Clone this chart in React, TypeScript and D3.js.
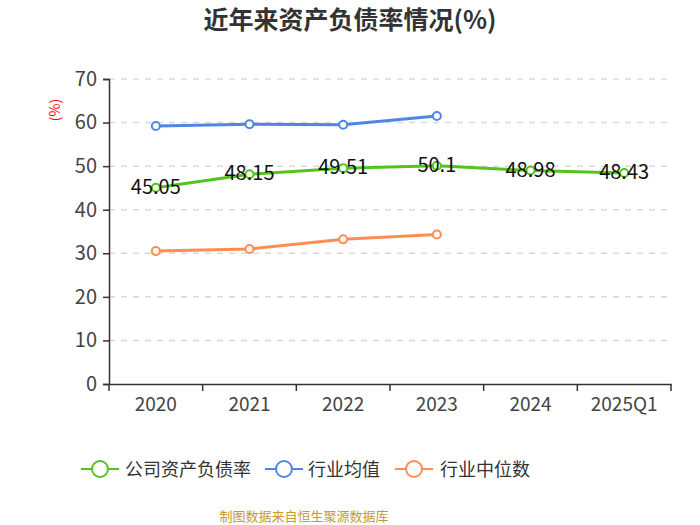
import React, { useEffect, useRef } from 'react';
import * as d3 from 'd3';

const categories = ['2020', '2021', '2022', '2023', '2024', '2025Q1'];
const companyRatio = [45.05, 48.15, 49.51, 50.1, 48.98, 48.43];
const industryAvg = [59.2, 59.6, 59.5, 61.5];
const industryMedian = [30.5, 31.0, 33.2, 34.3];
const yTicks = [0, 10, 20, 30, 40, 50, 60, 70];

const seriesNames = ['公司资产负债率', '行业均值', '行业中位数'];
const seriesColors = ['#52c41a', '#4f86e6', '#ff8c55'];

const FONT = '"Noto Sans CJK SC", "Noto Sans", sans-serif';

const App: React.FC = () => {
  const svgRef = useRef<SVGSVGElement | null>(null);

  useEffect(() => {
    if (!svgRef.current) return;
    const svg = d3.select(svgRef.current);
    svg.selectAll('*').remove();

    const width = 700;
    const height = 525;
    const margin = { top: 79, right: 29, bottom: 141, left: 109 };
    const innerWidth = width - margin.left - margin.right;
    const innerHeight = height - margin.top - margin.bottom;

    svg.append('rect').attr('width', width).attr('height', height).attr('fill', '#fff');

    // title
    svg.append('text')
      .attr('x', width / 2)
      .attr('y', 29)
      .attr('text-anchor', 'middle')
      .attr('font-family', FONT)
      .attr('font-size', 25)
      .attr('font-weight', 'bold')
      .attr('fill', '#333')
      .text('近年来资产负债率情况(%)');

    // unit
    svg.append('text')
      .attr('transform', 'translate(60,110) rotate(-90)')
      .attr('text-anchor', 'middle')
      .attr('font-family', FONT)
      .attr('font-size', 14)
      .attr('fill', '#ff0000')
      .text('(%)');

    const g = svg.append('g').attr('transform', `translate(${margin.left},${margin.top})`);

    const x = d3.scaleBand().domain(categories).range([0, innerWidth]);
    const y = d3.scaleLinear().domain([0, 70]).range([innerHeight, 0]);
    const cx = (c: string) => (x(c) || 0) + x.bandwidth() / 2;

    // grid
    g.selectAll('.grid')
      .data(yTicks.filter(t => t > 0))
      .enter()
      .append('line')
      .attr('x1', 0)
      .attr('x2', innerWidth)
      .attr('y1', d => y(d))
      .attr('y2', d => y(d))
      .attr('stroke', '#d9d9d9')
      .attr('stroke-width', 1.5)
      .attr('stroke-dasharray', '6,6');

    // y axis
    const yAxis = g.append('g').call(d3.axisLeft(y).tickValues(yTicks).tickSize(6).tickPadding(6));
    yAxis.select('.domain').attr('stroke', '#333').attr('stroke-width', 1.5);
    yAxis.selectAll('.tick line').attr('stroke', '#333').attr('stroke-width', 1.5);
    yAxis.selectAll('.tick text')
      .attr('font-family', FONT)
      .attr('font-size', 20)
      .attr('fill', '#444');

    // x axis
    const xAxis = g.append('g')
      .attr('transform', `translate(0,${innerHeight})`)
      .call(d3.axisBottom(x).tickSize(0).tickPadding(14));
    xAxis.select('.domain').attr('stroke', '#333').attr('stroke-width', 1.5);
    xAxis.selectAll('.tick text')
      .attr('font-family', FONT)
      .attr('font-size', 19)
      .attr('fill', '#444');
    xAxis.selectAll('.edge')
      .data(d3.range(categories.length + 1))
      .enter()
      .append('line')
      .attr('x1', i => i * x.bandwidth())
      .attr('x2', i => i * x.bandwidth())
      .attr('y1', 0)
      .attr('y2', 7)
      .attr('stroke', '#333')
      .attr('stroke-width', 1.5);

    const seriesData = [companyRatio, industryAvg, industryMedian];
    const line = d3.line<number>()
      .x((_, i) => cx(categories[i]))
      .y(d => y(d));

    // draw back to front: median, avg, company
    [2, 1, 0].forEach(si => {
      const data = seriesData[si];
      g.append('path')
        .datum(data)
        .attr('d', line)
        .attr('fill', 'none')
        .attr('stroke', seriesColors[si])
        .attr('stroke-width', 3);
      g.selectAll(`.pt${si}`)
        .data(data)
        .enter()
        .append('circle')
        .attr('cx', (_, i) => cx(categories[i]))
        .attr('cy', d => y(d))
        .attr('r', 4)
        .attr('fill', '#fff')
        .attr('stroke', seriesColors[si])
        .attr('stroke-width', 2);
    });

    // value labels for company
    g.selectAll('.lbl')
      .data(companyRatio)
      .enter()
      .append('text')
      .attr('x', (_, i) => cx(categories[i]))
      .attr('y', d => y(d) + 6)
      .attr('text-anchor', 'middle')
      .attr('font-family', FONT)
      .attr('font-size', 20)
      .attr('fill', '#111')
      .text(d => String(d));

    // legend
    const legendItems = [
      { x: 81, tx: 125 },
      { x: 265, tx: 308 },
      { x: 395, tx: 440 },
    ];
    const ly = 469;
    legendItems.forEach((item, i) => {
      svg.append('line')
        .attr('x1', item.x)
        .attr('x2', item.x + 38)
        .attr('y1', ly)
        .attr('y2', ly)
        .attr('stroke', seriesColors[i])
        .attr('stroke-width', 2);
      svg.append('circle')
        .attr('cx', item.x + 19)
        .attr('cy', ly)
        .attr('r', 8)
        .attr('fill', '#fff')
        .attr('stroke', seriesColors[i])
        .attr('stroke-width', 2);
      svg.append('text')
        .attr('x', item.tx)
        .attr('y', ly + 7)
        .attr('font-family', FONT)
        .attr('font-size', 18)
        .attr('fill', '#333')
        .text(seriesNames[i]);
    });

    // footer
    svg.append('text')
      .attr('x', 304)
      .attr('y', 521)
      .attr('text-anchor', 'middle')
      .attr('font-family', FONT)
      .attr('font-size', 13)
      .attr('fill', '#c9992f')
      .text('制图数据来自恒生聚源数据库');
  }, []);

  return (
    <svg
      ref={svgRef}
      width={700}
      height={525}
      style={{ display: 'block', position: 'absolute', left: 0, top: 0 }}
    />
  );
};

export default App;
